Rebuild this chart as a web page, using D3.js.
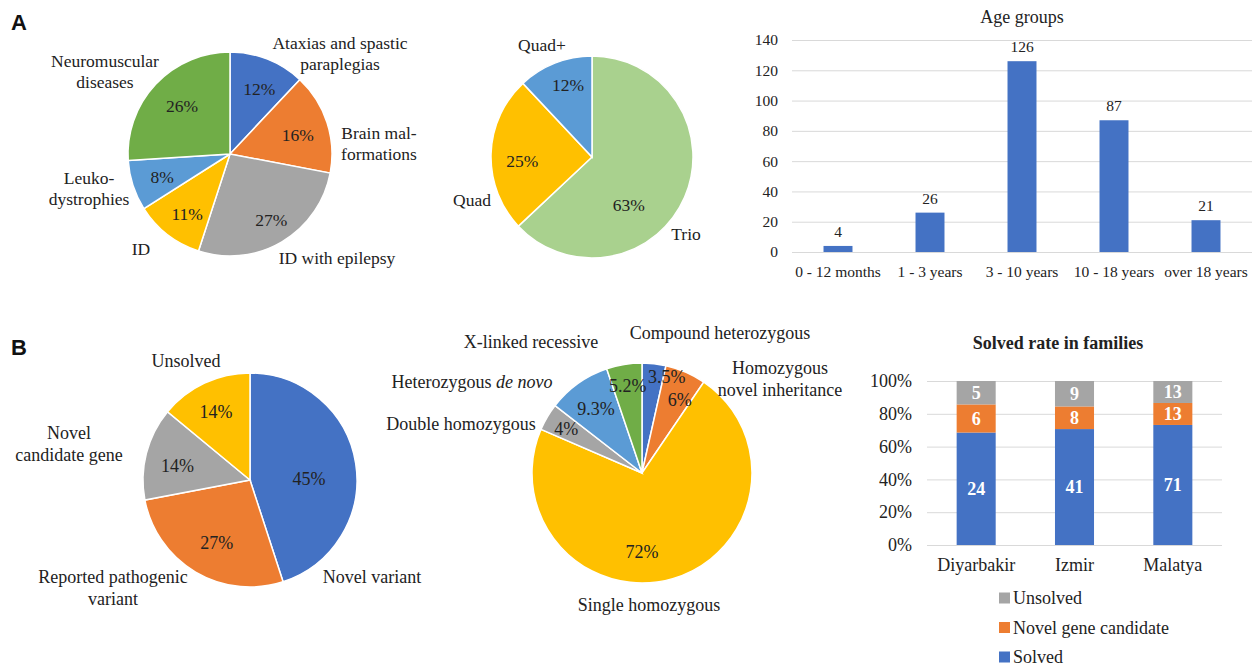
<!DOCTYPE html>
<html>
<head>
<meta charset="utf-8">
<script src="https://cdn.jsdelivr.net/npm/d3@7"></script>
<style>
  body { margin: 0; background: #fff; }
  svg { display: block; font-family: "Liberation Serif", "Times New Roman", serif; }
  text { fill: #222; }
  .grid .domain { display: none; }
  .grid .tick line { stroke: #d9d9d9; }
</style>
</head>
<body>
<svg id="chart" width="1256" height="668"></svg>
<script>
// ---- data ----
const diseaseGroups = ['Ataxias and spastic\nparaplegias', 'Brain mal-\nformations', 'ID with epilepsy', 'ID', 'Leuko-\ndystrophies', 'Neuromuscular\ndiseases'];
const diseaseShares = [12, 16, 27, 11, 8, 26];

const familyTypes = ['Trio', 'Quad', 'Quad+'];
const familyShares = [63, 25, 12];

const ageGroups = ['0 - 12 months', '1 - 3 years', '3 - 10 years', '10 - 18 years', 'over 18 years'];
const ageCounts = [4, 26, 126, 87, 21];
const ageTicks = [0, 20, 40, 60, 80, 100, 120, 140];

const outcomeTypes = ['Novel variant', 'Reported pathogenic\nvariant', 'Novel\ncandidate gene', 'Unsolved'];
const outcomeShares = [45, 27, 14, 14];

const inheritanceTypes = ['Compound heterozygous', 'Homozygous\nnovel inheritance', 'Single homozygous', 'Double homozygous', 'Heterozygous *de novo*', 'X-linked recessive'];
const inheritanceShares = [3.5, 6, 72, 4, 9.3, 5.2];

const cities = ['Diyarbakir', 'Izmir', 'Malatya'];
const solvedFamilies = [24, 41, 71];
const novelGeneFamilies = [6, 8, 13];
const unsolvedFamilies = [5, 9, 13];
const rateTicks = [0, 0.2, 0.4, 0.6, 0.8, 1];

// ---- colours ----
const blue = '#4472c4', orange = '#ed7d31', grey = '#a5a5a5', yellow = '#ffc000',
      lightBlue = '#5b9bd5', green = '#70ad47', paleGreen = '#a9d18e';
const serif = '"Liberation Serif", "Times New Roman", serif';

const svg = d3.select('#chart');

// writes a (possibly multi-line) label, *...* marks italic text
function writeLabel(g, txt, x, y, size) {
  const t = g.append('text')
    .attr('text-anchor', 'middle')
    .style('font-size', size + 'px');
  txt.split('\n').forEach((line, j) => {
    const ts = t.append('tspan').attr('x', x).attr('y', y).attr('dy', (0.35 + j * 1.22) + 'em');
    line.split('*').forEach((part, k) => {
      if (part) ts.append('tspan').attr('font-style', k % 2 ? 'italic' : null).text(part);
    });
  });
}

function drawPie(cfg) {
  const g = svg.append('g').attr('transform', `translate(${cfg.cx},${cfg.cy})`);
  const arcs = d3.pie().sort(null).value(d => d)(cfg.values);
  const arc = d3.arc().innerRadius(0).outerRadius(cfg.r);

  g.selectAll('path')
    .data(arcs)
    .join('path')
      .attr('d', arc)
      .attr('fill', (d, i) => cfg.colors[i])
      .attr('stroke', '#fff')
      .attr('stroke-width', 1.5);

  // percentage labels inside slices
  g.selectAll('text.pct')
    .data(arcs)
    .join('text')
      .attr('class', 'pct')
      .attr('text-anchor', 'middle')
      .attr('dy', '0.35em')
      .style('font-size', cfg.size + 'px')
      .attr('transform', (d, i) => {
        const f = cfg.labelRadius ? cfg.labelRadius[i] : 0.7;
        const c = d3.arc().innerRadius(cfg.r * f).outerRadius(cfg.r * f).centroid(d);
        const n = (cfg.nudge && cfg.nudge[i]) || [0, 0];
        return `translate(${c[0] + n[0]},${c[1] + n[1]})`;
      })
      .text(d => d.data + '%');

  // category names around the pie
  cfg.names.forEach((name, i) => writeLabel(g, name, cfg.namePos[i][0], cfg.namePos[i][1], cfg.size));
}

// panel letters
svg.append('text').attr('x', 11).attr('y', 30).style('font-family', '"Liberation Sans", Arial, sans-serif')
  .style('font-weight', 'bold').style('font-size', '22px').style('fill', '#111').text('A');
svg.append('text').attr('x', 11).attr('y', 355).style('font-family', '"Liberation Sans", Arial, sans-serif')
  .style('font-weight', 'bold').style('font-size', '22px').style('fill', '#111').text('B');

// ---- A: disease groups ----
drawPie({
  cx: 230, cy: 154, r: 102, size: 17.5,
  values: diseaseShares,
  colors: [blue, orange, grey, yellow, lightBlue, green],
  names: diseaseGroups,
  namePos: [[110, -111], [149, -21], [107, 104], [-89, 95], [-141, 24], [-125, -93]],
  nudge: [[3, 1], [0, 3], [5, 4], [1, 3], [0, 1], [4, 1]]
});

// ---- A: family structure ----
drawPie({
  cx: 592, cy: 157, r: 101, size: 17.5,
  values: familyShares,
  colors: [paleGreen, yellow, lightBlue],
  names: familyTypes,
  namePos: [[94, 77], [-120, 43], [-50, -112]],
  nudge: [[-28, 20], [1, 6], [2, -6]]
});

// ---- A: age groups bar chart ----
const xAge = d3.scaleBand().domain(ageGroups).range([792, 1252]).paddingInner(0.685).paddingOuter(0.3425);
const yAge = d3.scaleLinear().domain([0, 140]).range([252, 40]);

svg.append('g')
    .attr('class', 'grid')
    .attr('transform', 'translate(792,0)')
    .call(d3.axisLeft(yAge).tickValues(ageTicks).tickSize(-460).tickPadding(14))
    .attr('font-family', serif)
    .attr('font-size', 15.5);

svg.append('g')
    .attr('class', 'grid')
    .attr('transform', 'translate(0,252)')
    .call(d3.axisBottom(xAge).tickSize(0).tickPadding(14))
    .attr('font-family', serif)
    .attr('font-size', 15.5);

svg.selectAll('rect.age')
  .data(ageCounts)
  .join('rect')
    .attr('class', 'age')
    .attr('x', (d, i) => xAge(ageGroups[i]))
    .attr('width', xAge.bandwidth())
    .attr('y', d => yAge(d))
    .attr('height', d => yAge(0) - yAge(d))
    .attr('fill', blue);

svg.selectAll('text.ageval')
  .data(ageCounts)
  .join('text')
    .attr('class', 'ageval')
    .attr('x', (d, i) => xAge(ageGroups[i]) + xAge.bandwidth() / 2)
    .attr('y', d => yAge(d) - 9)
    .attr('text-anchor', 'middle')
    .style('font-size', '15.5px')
    .text(d => d);

svg.append('text')
  .attr('x', 1022).attr('y', 23)
  .attr('text-anchor', 'middle')
  .style('font-size', '18px')
  .text('Age groups');

// ---- B: outcome ----
drawPie({
  cx: 250, cy: 480, r: 107, size: 18,
  values: outcomeShares,
  colors: [blue, orange, grey, yellow],
  names: outcomeTypes,
  namePos: [[122, 97], [-137, 97], [-181, -47], [-64, -119]],
  nudge: [[-15, 10], [5, -2], [0, 4], [-2, -1]]
});

// ---- B: inheritance ----
drawPie({
  cx: 642, cy: 473, r: 110, size: 18,
  values: inheritanceShares,
  colors: [blue, orange, yellow, grey, lightBlue, green],
  names: inheritanceTypes,
  namePos: [[78, -140], [138, -105], [7, 132], [-181, -49], [-170, -91], [-111, -131]],
  labelRadius: [0.9, 0.75, 0.72, 0.8, 0.72, 0.8],
  nudge: [[14, 2], [5, 2], [-22, 3], [0, 0], [0, 0], [0, 0]]
});

// ---- B: solved rate stacked bars ----
const familyRows = cities.map((c, i) => ({
  city: c, solved: solvedFamilies[i], novel: novelGeneFamilies[i], unsolved: unsolvedFamilies[i]
}));
const stackKeys = ['solved', 'novel', 'unsolved'];
const stackColors = { solved: blue, novel: orange, unsolved: grey };
const stacked = d3.stack().keys(stackKeys).offset(d3.stackOffsetExpand)(familyRows);

const xCity = d3.scaleBand().domain(cities).range([927, 1222]).paddingInner(0.603).paddingOuter(0.3015);
const yRate = d3.scaleLinear().domain([0, 1]).range([545, 381]);

svg.append('g')
    .attr('class', 'grid')
    .attr('transform', 'translate(927,0)')
    .call(d3.axisLeft(yRate).tickValues(rateTicks).tickFormat(d3.format('.0%')).tickSize(-295).tickPadding(15))
    .attr('font-family', serif)
    .attr('font-size', 18);

svg.append('g')
    .attr('class', 'grid')
    .attr('transform', 'translate(0,545)')
    .call(d3.axisBottom(xCity).tickSize(0).tickPadding(13))
    .attr('font-family', serif)
    .attr('font-size', 18);

const layers = svg.selectAll('g.layer')
  .data(stacked)
  .join('g')
    .attr('class', 'layer')
    .attr('fill', d => stackColors[d.key]);

layers.selectAll('rect')
  .data(d => d)
  .join('rect')
    .attr('x', d => xCity(d.data.city))
    .attr('width', xCity.bandwidth())
    .attr('y', d => yRate(d[1]))
    .attr('height', d => yRate(d[0]) - yRate(d[1]));

layers.each(function(layer) {
  d3.select(this).selectAll('text')
    .data(layer)
    .join('text')
      .attr('x', d => xCity(d.data.city) + xCity.bandwidth() / 2)
      .attr('y', d => (yRate(d[0]) + yRate(d[1])) / 2)
      .attr('dy', '0.35em')
      .attr('text-anchor', 'middle')
      .style('fill', '#fff')
      .style('font-weight', 'bold')
      .style('font-size', '18px')
      .text(d => d.data[layer.key]);
});

svg.append('text')
  .attr('x', 1058).attr('y', 349)
  .attr('text-anchor', 'middle')
  .style('font-size', '18px')
  .style('font-weight', 'bold')
  .text('Solved rate in families');

const legendItems = [['unsolved', 'Unsolved'], ['novel', 'Novel gene candidate'], ['solved', 'Solved']];
const legend = svg.selectAll('g.legend')
  .data(legendItems)
  .join('g')
    .attr('class', 'legend')
    .attr('transform', (d, i) => `translate(999,${598 + i * 29.5})`);
legend.append('rect')
  .attr('x', 0).attr('y', -5.5).attr('width', 11).attr('height', 11)
  .attr('fill', d => stackColors[d[0]]);
legend.append('text')
  .attr('x', 14).attr('dy', '0.35em')
  .style('font-size', '18px')
  .text(d => d[1]);
</script>
</body>
</html>
